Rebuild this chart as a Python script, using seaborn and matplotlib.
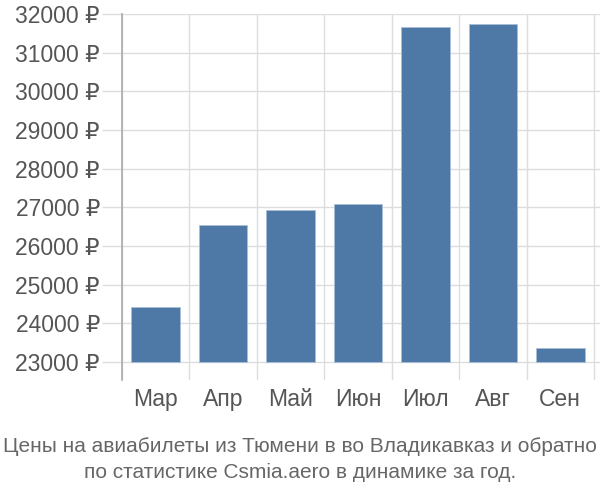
import matplotlib
matplotlib.use("Agg")
import matplotlib.pyplot as plt
import seaborn as sns
import pandas as pd
from matplotlib.ticker import FixedLocator, FuncFormatter

months = ["Мар", "Апр", "Май", "Июн", "Июл", "Авг", "Сен"]
prices = [24430, 26540, 26940, 27090, 31670, 31740, 23360]
yticks = [23000, 24000, 25000, 26000, 27000, 28000, 29000, 30000, 31000, 32000]
base = 23000
title_lines = ["Цены на авиабилеты из Тюмени в во Владикавказ и обратно",
               "по статистике Csmia.aero в динамике за год."]

sns.set_theme(style="white")
plt.rcParams['font.family'] = ['Liberation Sans', 'DejaVu Sans']

df = pd.DataFrame({"month": months, "price": prices})

fig = plt.figure(figsize=(6, 5), dpi=100)
ax = fig.add_axes([122/600, 120/500, (600-122)/600, (380-14)/500])

sns.barplot(data=df, x="month", y="price", color="#4e79a7", saturation=1,
            width=0.72, edgecolor="#a9bfd8", linewidth=0.6, ax=ax, zorder=3)

for p, v in zip(ax.patches, prices):
    p.set_y(base)
    p.set_height(v - base)

cat_w = 472/7
ax.set_xlim(-0.5, 6.5 + 6/cat_w)
ax.set_ylim(22535, 32000)

ax.yaxis.set_major_locator(FixedLocator(yticks))
ax.yaxis.set_major_formatter(FuncFormatter(lambda v, p: f"{int(v)} ₽"))
ax.grid(axis="y", color="#dddddd", linewidth=1, zorder=0)
ax.set_xticks(range(len(months)))
ax.set_xticklabels(months)
ax.set_xticks([i - 0.5 for i in range(len(months) + 1)], minor=True)
ax.grid(axis="x", which="minor", color="#dddddd", linewidth=1, zorder=0)

ax.tick_params(axis="y", which="major", length=14.4, width=1, color="#dddddd",
               labelsize=16.5, labelcolor="#555555", pad=1.5, left=True)
ax.tick_params(axis="x", which="major", length=0, labelsize=16.5,
               labelcolor="#555555", pad=6)
ax.tick_params(axis="x", which="minor", length=0)

for s in ["top", "right", "bottom"]:
    ax.spines[s].set_visible(False)
ax.spines["left"].set_color("#aaaaaa")
ax.spines["left"].set_linewidth(1.2)
ax.set_xlabel("")
ax.set_ylabel("")

fig.text(0.5, 1 - 447/500, title_lines[0], ha="center", va="center", fontsize=15,
         color="#666666")
fig.text(0.5, 1 - 472/500, title_lines[1], ha="center", va="center", fontsize=15,
         color="#666666")

fig.savefig("out.png", dpi=100)
